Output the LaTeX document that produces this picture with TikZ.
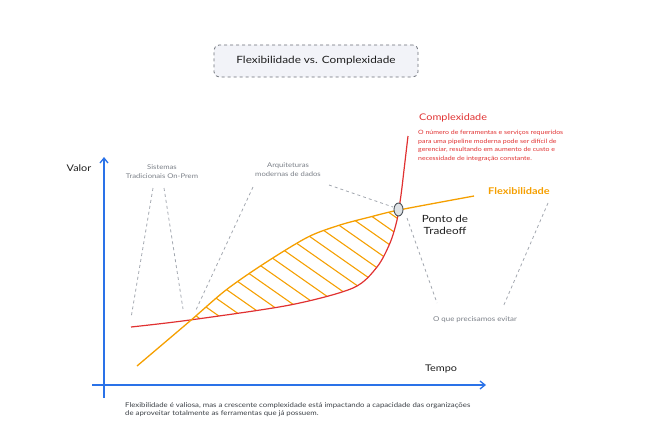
\documentclass[tikz,border=0pt]{standalone}
\usepackage{fontspec}
\setmainfont{Lato}[FakeStretch=1.18]
\usetikzlibrary{arrows.meta,shapes.geometric}
\definecolor{axisblue}{HTML}{2A72E8}
\definecolor{cred}{HTML}{E03131}
\definecolor{corange}{HTML}{F59F00}
\definecolor{dgray}{HTML}{A3A8B0}
\definecolor{ltxt}{HTML}{7A7F87}
\definecolor{txt}{HTML}{1E1E1E}
\definecolor{btxt}{HTML}{3A3F45}
\definecolor{titlefill}{HTML}{F2F3F8}
\definecolor{titledraw}{HTML}{6C7078}
\definecolor{ptfill}{HTML}{DEE2E6}
\definecolor{ptdraw}{HTML}{495057}
\begin{document}
\begin{tikzpicture}[x=1pt,y=-1pt,
  axis/.style={draw=axisblue,line width=1.3pt,-{Straight Barb[length=5pt,width=8pt]}},
  guide/.style={draw=dgray,line width=0.8pt,dash pattern=on 3pt off 3pt},
  hatchline/.style={draw=corange,line width=1.1pt},
  smalltxt/.style={text=ltxt,font=\fontsize{6.7}{8.7}\selectfont,align=center,inner sep=0pt},
  lbl/.style={text=txt,font=\fontsize{9.2}{12}\selectfont,inner sep=0pt},
  titlebox/.style={draw=titledraw,fill=titlefill,dashed,line width=0.8pt,rounded corners=5pt,minimum width=204pt,minimum height=32pt,font=\fontsize{10}{12}\selectfont,text=txt}
]
\useasboundingbox (0,0) rectangle (660,444);

% title
\node[titlebox] (title) at (316,61) {Flexibilidade vs. Complexidade};

% hatched region
\begin{scope}
  \clip plot[smooth,tension=0.5] coordinates {(137,366) (190,321) (226,290) (265,263) (308,237) (340,225) (370,217) (399,210) (474,196)} -- (474,450) -- (137,450) -- cycle;
  \clip plot[smooth,tension=0.5] coordinates {(131,327) (190,320) (290,305) (353,288) (377,267) (390,243) (397,220) (401,195) (404,170) (408,136)} -- (408,90) -- (131,90) -- cycle;
  \foreach \k in {-9,...,11} {
    \draw[hatchline] (170,{35.6+15.9*\k+0.7*170}) -- (420,{35.6+15.9*\k+0.7*420});
  }
\end{scope}

% curves
\draw[cred,line width=1.2pt] plot[smooth,tension=0.5] coordinates {(131,327) (190,320) (290,305) (353,288) (377,267) (390,243) (397,220) (401,195) (404,170) (408,136)};
\draw[corange,line width=1.3pt] plot[smooth,tension=0.5] coordinates {(137,366) (190,321) (226,290) (265,263) (308,237) (340,225) (370,217) (399,210) (474,196)};

% axes
\coordinate (yb) at (104,398);
\coordinate (yt) at (104,157);
\coordinate (xl) at (92,385);
\coordinate (xr) at (486,385);
\draw[axis] (yb) -- (yt);
\draw[axis] (xl) -- (xr);
\node[lbl] (valor) at (79,168) {Valor};
\node[lbl] (tempo) at (441,369) {Tempo};

% tradeoff point
\node[ellipse,draw=ptdraw,fill=ptfill,line width=0.9pt,minimum width=9pt,minimum height=13pt,inner sep=0pt] (pt) at (398.5,209.5) {};
\node[lbl,align=center,font=\fontsize{9.9}{12}\selectfont] (ponto) at (445,225) {Ponto de\\Tradeoff};

% labels
\node[anchor=west,text=cred,font=\fontsize{9.2}{12}\selectfont,inner sep=0pt] (cplx) at (419,118) {Complexidade};
\node[anchor=north west,text=cred,font=\fontsize{5.9}{8.5}\selectfont,align=left,inner sep=0pt] (cdesc) at (418,130) {O número de ferramentas e serviços requeridos\\para uma pipeline moderna pode ser difícil de\\gerenciar, resultando em aumento de custo e\\necessidade de integração constante.};
\node[anchor=west,text=corange,font=\fontsize{9.3}{12}\selectfont\bfseries,inner sep=0pt] (flex) at (488,191) {Flexibilidade};

\node[smalltxt,font=\fontsize{6.5}{8.7}\selectfont] (sist) at (162,171.5) {Sistemas\\Tradicionais On-Prem};
\node[smalltxt,font=\fontsize{6.5}{8.7}\selectfont] (arq) at (288,169.5) {Arquiteturas\\modernas de dados};
\node[smalltxt] (evit) at (475,320) {O que precisamos evitar};

\node[anchor=north west,text=btxt,font=\fontsize{6.6}{8}\selectfont,align=left,inner sep=0pt] (nota) at (125,402) {Flexibilidade é valiosa, mas a crescente complexidade está impactando a capacidade das organizações\\de aproveitar totalmente as ferramentas que já possuem.};

% guide lines
\coordinate (s1a) at (153,188); \coordinate (s1b) at (131,318);
\coordinate (s2a) at (164,188); \coordinate (s2b) at (183,309);
\coordinate (a1a) at (253,187); \coordinate (a1b) at (195,312);
\coordinate (a2a) at (329,185); \coordinate (a2b) at (393,207);
\coordinate (e1a) at (407,218); \coordinate (e1b) at (437,303);
\coordinate (e2a) at (548,203); \coordinate (e2b) at (503,307);
\draw[guide] (s1a) -- (s1b);
\draw[guide] (s2a) -- (s2b);
\draw[guide] (a1a) -- (a1b);
\draw[guide] (a2a) -- (a2b);
\draw[guide] (e1a) -- (e1b);
\draw[guide] (e2a) -- (e2b);
\end{tikzpicture}
\end{document}
